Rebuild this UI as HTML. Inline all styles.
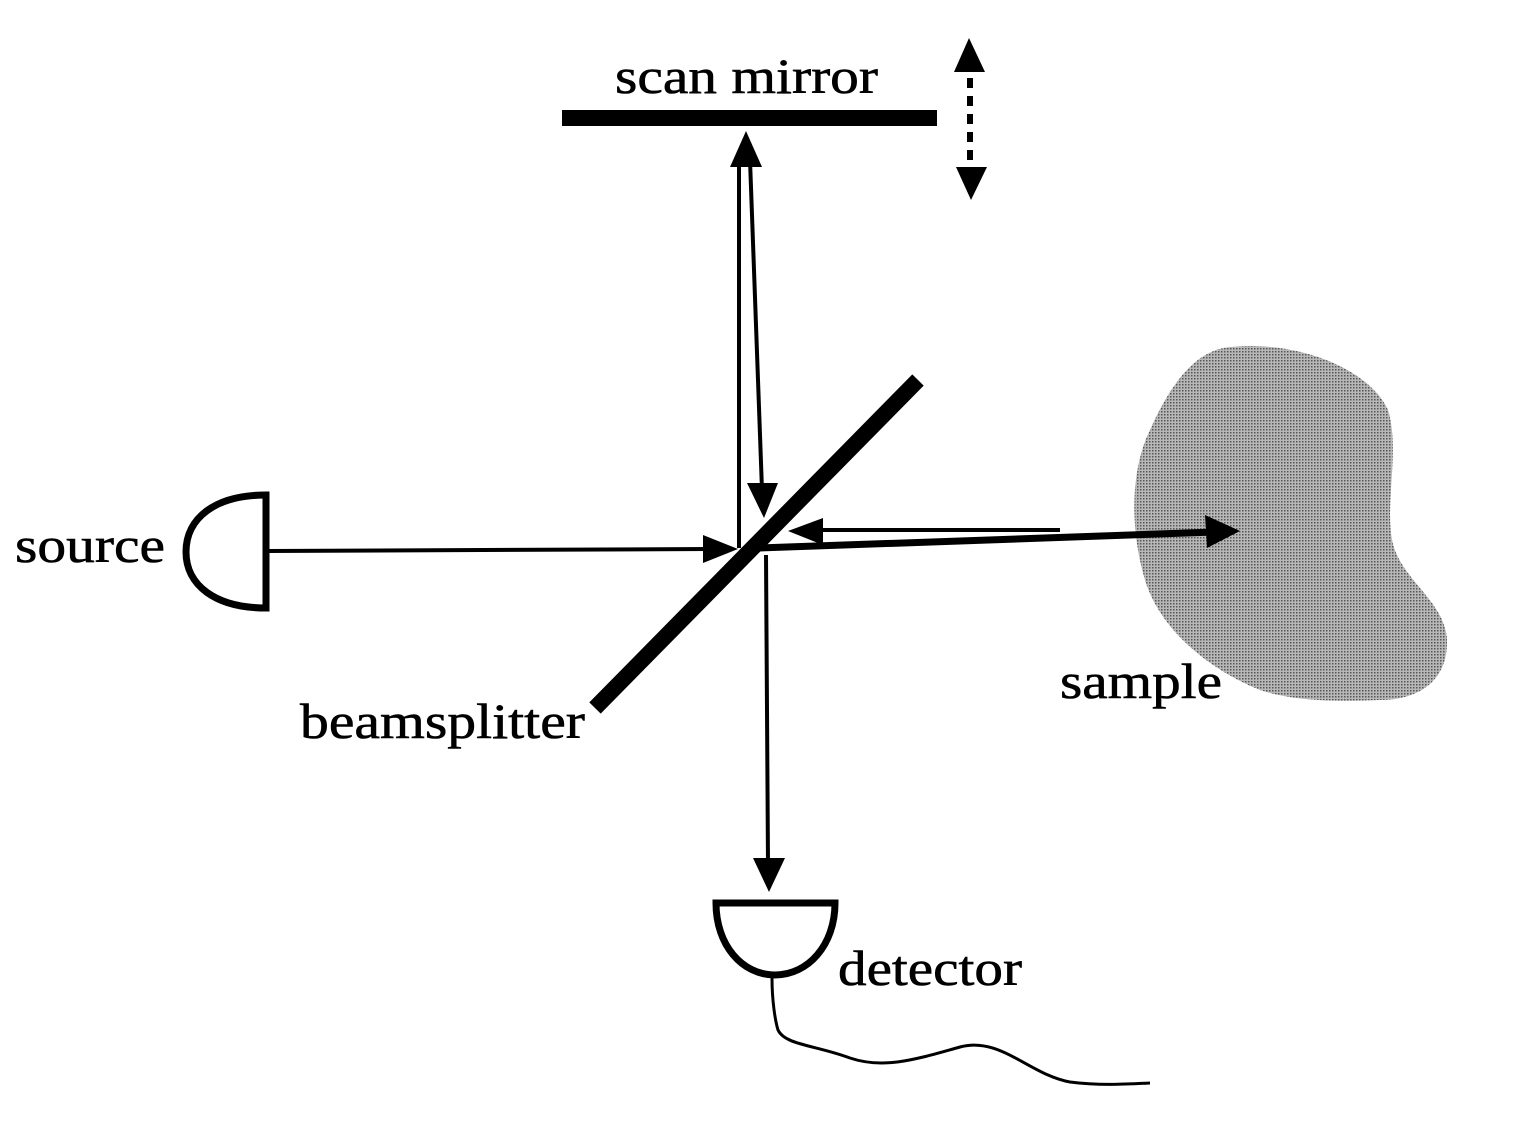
<!DOCTYPE html>
<html><head><style>html,body{margin:0;padding:0;background:#fff}svg{display:block}text{font-family:"Liberation Serif",serif;font-size:50px;fill:#000;stroke:#000;stroke-width:0.6}</style></head>
<body>
<svg width="1539" height="1148" viewBox="0 0 1539 1148" xmlns="http://www.w3.org/2000/svg">
<defs>
<pattern id="dots" width="3" height="3" patternUnits="userSpaceOnUse">
<rect width="3" height="3" fill="#b8b8b8"/>
<rect width="1.5" height="1.5" fill="#555"/>
</pattern>
</defs>
<path d="M1230,347 C1300,340 1370,370 1388,410 C1400,450 1385,500 1392,540 C1400,580 1445,600 1447,640 C1448,680 1420,700 1380,700 C1330,702 1290,700 1260,690 C1210,670 1160,630 1145,580 C1130,530 1130,470 1150,430 C1170,385 1195,350 1230,347 Z" fill="url(#dots)"/>
<rect x="562" y="110" width="375" height="16" fill="#000"/>
<polygon points="969,38 954,72 985,72" fill="#000"/>
<polygon points="971,200 956,167 987,167" fill="#000"/>
<line x1="970" y1="78" x2="970" y2="165" stroke="#000" stroke-width="6" stroke-dasharray="10,8"/>
<line x1="595" y1="708" x2="918" y2="380" stroke="#000" stroke-width="16"/>
<line x1="739" y1="160" x2="739" y2="548" stroke="#000" stroke-width="4"/>
<polygon points="746,131 730,167 762,167" fill="#000"/>
<line x1="750" y1="160" x2="762" y2="490" stroke="#000" stroke-width="4"/>
<polygon points="764,518 747,483 778,483" fill="#000"/>
<line x1="268" y1="551" x2="710" y2="549" stroke="#000" stroke-width="4"/>
<polygon points="738,549 703,535 703,563" fill="#000"/>
<line x1="815" y1="530" x2="1060" y2="530" stroke="#000" stroke-width="4"/>
<polygon points="788,531 823,518 823,545" fill="#000"/>
<line x1="760" y1="548" x2="1215" y2="532" stroke="#000" stroke-width="7"/>
<polygon points="1240,531 1205,515 1207,548" fill="#000"/>
<line x1="766" y1="555" x2="768" y2="865" stroke="#000" stroke-width="4"/>
<polygon points="769,892 753,858 785,858" fill="#000"/>
<path d="M266,495 L266,608 C215,608 186,585 186,552 C186,518 215,495 266,495 Z" fill="none" stroke="#000" stroke-width="7"/>
<path d="M716,903 L835,903 C835,945 808,975 775,975 C742,975 716,945 716,903 Z" fill="none" stroke="#000" stroke-width="7"/>
<path d="M772,978 C772,1000 775,1020 778,1030 C785,1045 815,1045 850,1058 C885,1070 920,1058 960,1047 C1000,1036 1030,1075 1070,1082 C1100,1086 1130,1084 1150,1083" fill="none" stroke="#000" stroke-width="3"/>
<text x="615" y="93" textLength="263" lengthAdjust="spacingAndGlyphs">scan mirror</text>
<text x="15" y="562" textLength="150" lengthAdjust="spacingAndGlyphs">source</text>
<text x="300" y="738" textLength="285" lengthAdjust="spacingAndGlyphs">beamsplitter</text>
<text x="1060" y="698" textLength="162" lengthAdjust="spacingAndGlyphs">sample</text>
<text x="838" y="985" textLength="184" lengthAdjust="spacingAndGlyphs">detector</text>
</svg>
</body></html>
